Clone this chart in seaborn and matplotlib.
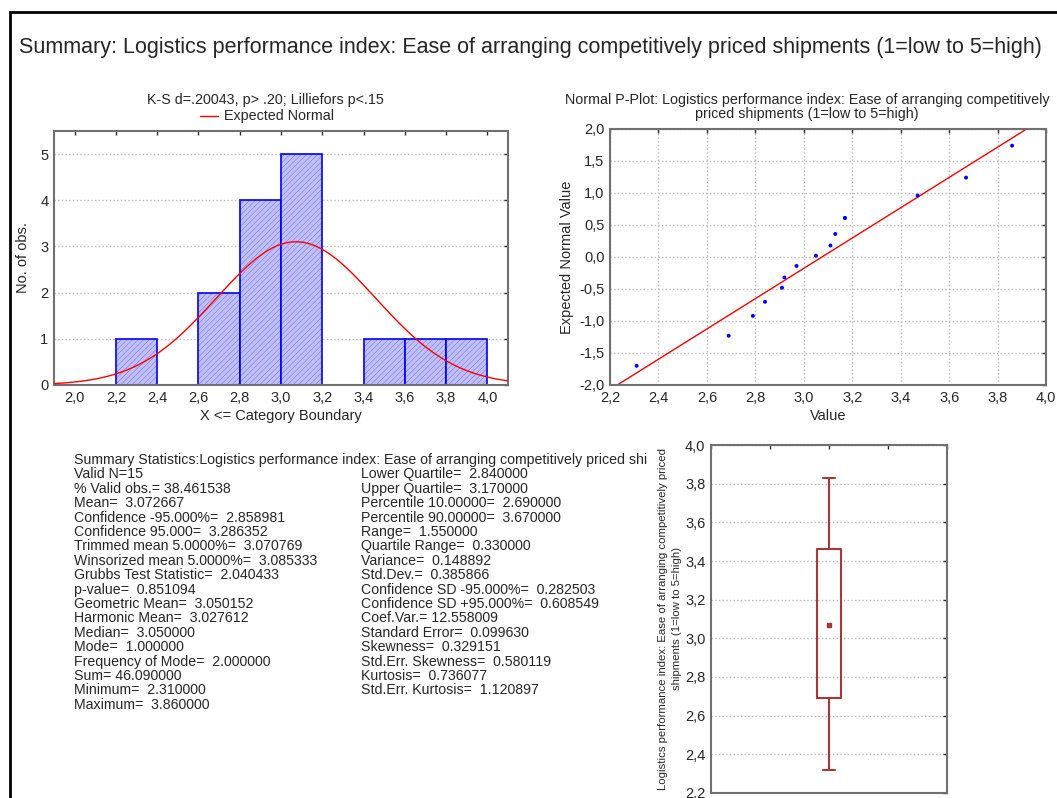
import numpy as np
import matplotlib
matplotlib.use("Agg")
import matplotlib.pyplot as plt
from matplotlib.patches import Rectangle
from matplotlib.ticker import FuncFormatter
import seaborn as sns

values = [2.31, 2.69, 2.79, 2.84, 2.91, 2.92, 2.97, 3.05, 3.11, 3.13, 3.17, 3.17, 3.47, 3.67, 3.86]
expected_normal = [-1.70, -1.23, -0.92, -0.70, -0.48, -0.32, -0.14, 0.02, 0.18, 0.36, 0.61, 0.61, 0.96, 1.24, 1.74]

bin_edges = [2.0, 2.2, 2.4, 2.6, 2.8, 3.0, 3.2, 3.4, 3.6, 3.8, 4.0]
mean_val = 3.072667
sd_val = 0.385866

# fitted line of the p-plot (end points)
line_x = [2.23, 3.92]
line_y = [-2.0, 2.0]

# box plot: mean, mean +/- SD, mean +/- 1.96*SD
box_mean = 3.07
box_lo, box_hi = 2.69, 3.46
whisk_lo, whisk_hi = 2.32, 3.83

main_title = "Summary: Logistics performance index: Ease of arranging competitively priced shipments (1=low to 5=high)"
hist_title = "K-S d=.20043, p> .20; Lilliefors p<.15"
pplot_title = ("Normal P-Plot: Logistics performance index: Ease of arranging competitively\n"
               "priced shipments (1=low to 5=high)")
box_ylabel = ("Logistics performance index: Ease of arranging competitively priced\n"
              "shipments (1=low to 5=high)")

stats_left = [
    "Summary Statistics:Logistics performance index: Ease of arranging competitively priced shipments (1=low to 5=high)",
    "Valid N=15",
    "% Valid obs.= 38.461538",
    "Mean=  3.072667",
    "Confidence -95.000%=  2.858981",
    "Confidence 95.000=  3.286352",
    "Trimmed mean 5.0000%=  3.070769",
    "Winsorized mean 5.0000%=  3.085333",
    "Grubbs Test Statistic=  2.040433",
    "p-value=  0.851094",
    "Geometric Mean=  3.050152",
    "Harmonic Mean=  3.027612",
    "Median=  3.050000",
    "Mode=  1.000000",
    "Frequency of Mode=  2.000000",
    "Sum= 46.090000",
    "Minimum=  2.310000",
    "Maximum=  3.860000",
]
stats_right = [
    "Lower Quartile=  2.840000",
    "Upper Quartile=  3.170000",
    "Percentile 10.00000=  2.690000",
    "Percentile 90.00000=  3.670000",
    "Range=  1.550000",
    "Quartile Range=  0.330000",
    "Variance=  0.148892",
    "Std.Dev.=  0.385866",
    "Confidence SD -95.000%=  0.282503",
    "Confidence SD +95.000%=  0.608549",
    "Coef.Var.= 12.558009",
    "Standard Error=  0.099630",
    "Skewness=  0.329151",
    "Std.Err. Skewness=  0.580119",
    "Kurtosis=  0.736077",
    "Std.Err. Kurtosis=  1.120897",
]

sns.set_style("white")
plt.rcParams["font.family"] = ["Liberation Sans", "DejaVu Sans"]
plt.rcParams["hatch.linewidth"] = 0.15

W, H = 1057, 798
fig = plt.figure(figsize=(W / 100, H / 100), dpi=100)


def px_axes(x0, y0, x1, y1):
    """axes from pixel box (top-left origin)"""
    return fig.add_axes([x0 / W, 1 - y1 / H, (x1 - x0) / W, (y1 - y0) / H])


comma = FuncFormatter(lambda v, p: f"{v:.1f}".replace(".", ","))


def style_frame(ax):
    for s in ax.spines.values():
        s.set_color("#707070")
        s.set_linewidth(1.5)
    ax.tick_params(direction="in", length=3, width=1, color="#303030",
                   top=True, right=True, labelsize=10.5, pad=4)


fig.add_artist(Rectangle((10 / W, -0.02), 1.1, (H - 12) / H + 0.02, transform=fig.transFigure,
                         fill=False, edgecolor="black", linewidth=2))
fig.text(19 / W, 1 - 47 / H, main_title, fontsize=15.5, va="center", ha="left")

# histogram
ax1 = px_axes(54, 131, 508, 385)
sns.histplot(x=values, bins=bin_edges, ax=ax1, color="#c0c0f6", alpha=1,
             edgecolor="#0000ff", linewidth=1.2, hatch="//////", zorder=2)
xs = np.linspace(1.9, 4.1, 300)
bw = bin_edges[1] - bin_edges[0]
curve = len(values) * bw * np.exp(-0.5 * ((xs - mean_val) / sd_val) ** 2) / (sd_val * np.sqrt(2 * np.pi))
sns.lineplot(x=xs, y=curve, ax=ax1, color="red", linewidth=1, zorder=3)
ax1.set_xlim(1.9, 4.1)
ax1.set_ylim(0, 5.5)
ax1.set_xticks(bin_edges)
ax1.set_yticks(range(6))
ax1.xaxis.set_major_formatter(comma)
ax1.yaxis.grid(True, linestyle=":", color="#b8b8b8", linewidth=1)
ax1.set_axisbelow(True)
ax1.set_xlabel("X <= Category Boundary", fontsize=10.5, labelpad=3)
ax1.set_ylabel("No. of obs.", fontsize=10.5, labelpad=7)
style_frame(ax1)
fig.text(265 / W, 1 - 100 / H, hist_title, fontsize=10.3, ha="center", va="center")
fig.add_artist(plt.Line2D([200 / W, 218 / W], [1 - 116 / H] * 2, color="red", linewidth=1))
fig.text(224 / W, 1 - 116 / H, "Expected Normal", fontsize=10.3, ha="left", va="center")

# normal probability plot
ax2 = px_axes(610, 129, 1046, 385)
sns.lineplot(x=line_x, y=line_y, ax=ax2, color="red", linewidth=1)
sns.scatterplot(x=values, y=expected_normal, ax=ax2, color="#0000ff", s=8,
                edgecolor="none", zorder=3)
ax2.set_xlim(2.2, 4.0)
ax2.set_ylim(-2.0, 2.0)
ax2.set_xticks(np.arange(2.2, 4.01, 0.2))
ax2.set_yticks(np.arange(-2.0, 2.01, 0.5))
ax2.xaxis.set_major_formatter(comma)
ax2.yaxis.set_major_formatter(comma)
ax2.grid(True, linestyle=":", color="#b8b8b8", linewidth=1)
ax2.set_axisbelow(True)
ax2.set_xlabel("Value", fontsize=10.5, labelpad=3)
ax2.set_ylabel("Expected Normal Value", fontsize=10.5, labelpad=4)
style_frame(ax2)
fig.text(807 / W, 1 - 107 / H, pplot_title, fontsize=10.3, ha="center", va="center",
         linespacing=1.0)

# summary statistics text
axt = fig.add_axes([0, 0, 647 / W, 1])
axt.set_xlim(0, 647)
axt.set_ylim(H, 0)
axt.axis("off")
step = 14.4
for i, line in enumerate(stats_left):
    axt.text(74, 460 + i * step, line, fontsize=10.2, va="center", ha="left", clip_on=True)
for i, line in enumerate(stats_right):
    axt.text(361, 460 + (i + 1) * step, line, fontsize=10.2, va="center", ha="left", clip_on=True)

# box plot
ax3 = px_axes(711, 445, 947, 793)
box_color = "#a83838"
ax3.bxp([{"med": box_mean, "mean": box_mean, "q1": box_lo, "q3": box_hi,
          "whislo": whisk_lo, "whishi": whisk_hi, "fliers": []}],
        positions=[0], widths=0.2, capwidths=[0.1], showmeans=True,
        boxprops=dict(color=box_color, linewidth=1.5),
        whiskerprops=dict(color=box_color, linewidth=1.5),
        capprops=dict(color=box_color, linewidth=1.5),
        medianprops=dict(linewidth=0),
        meanprops=dict(marker="s", markersize=2.5, markerfacecolor=box_color,
                       markeredgecolor=box_color))
ax3.set_xlim(-1, 1)
ax3.set_ylim(2.2, 4.0)
ax3.set_xticks([-1, -0.5, 0, 0.5, 1])
ax3.set_xticklabels([])
ax3.set_yticks(np.arange(2.2, 4.01, 0.2))
ax3.yaxis.set_major_formatter(comma)
ax3.yaxis.grid(True, linestyle=":", color="#b8b8b8", linewidth=1)
ax3.set_axisbelow(True)
ax3.set_ylabel(box_ylabel, fontsize=8.2, labelpad=2, linespacing=1.5)
style_frame(ax3)

fig.savefig("out.png", dpi=100)
